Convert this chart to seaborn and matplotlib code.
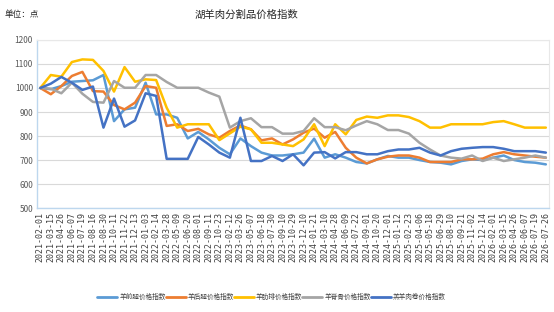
import numpy as np
import pandas as pd
import matplotlib
matplotlib.use("Agg")
import matplotlib.pyplot as plt
import seaborn as sns

dates = ["2021-02-01", "2021-03-15", "2021-04-26", "2021-06-07", "2021-07-19", "2021-08-16",
         "2021-08-30", "2021-10-11", "2021-11-22", "2021-12-13", "2022-01-03", "2022-02-14",
         "2022-03-28", "2022-05-09", "2022-06-20", "2022-08-01", "2022-09-11", "2022-10-23",
         "2023-02-12", "2023-03-26", "2023-05-07", "2023-06-18", "2023-07-30", "2023-09-10",
         "2023-10-29", "2023-12-10", "2024-01-21", "2024-03-10", "2024-04-28", "2024-06-09",
         "2024-07-22", "2024-09-01", "2024-10-20", "2024-12-01", "2025-01-12", "2025-02-23",
         "2025-04-06", "2025-05-18", "2025-06-29", "2025-08-10", "2025-09-21", "2025-11-02",
         "2025-12-14", "2026-02-01", "2026-03-15", "2026-04-26", "2026-06-07", "2026-07-19",
         "2026-07-26"]

front_leg = [1000, 995, 1008, 1026, 1029, 1032, 1054, 862, 911, 918, 1022, 890, 890, 876, 790,
             817, 786, 751, 724, 790, 758, 731, 719, 719, 724, 731, 789, 710, 724, 710, 692,
             686, 703, 717, 710, 710, 700, 692, 689, 682, 696, 703, 700, 710, 719, 700, 692,
             689, 682]
hind_leg = [1000, 974, 1008, 1050, 1067, 987, 985, 929, 911, 939, 1008, 1001, 842, 849, 821,
            830, 807, 793, 821, 844, 828, 782, 790, 765, 786, 814, 831, 793, 817, 751, 710,
            686, 703, 714, 719, 719, 710, 692, 692, 692, 703, 703, 706, 724, 733, 724, 719,
            714, 710]
ribs = [1000, 1054, 1047, 1108, 1119, 1117, 1071, 985, 1087, 1026, 1036, 1033, 918, 835, 849,
        849, 849, 783, 811, 839, 828, 772, 772, 765, 758, 786, 849, 758, 849, 807, 867, 881,
        876, 886, 886, 879, 862, 835, 835, 849, 849, 849, 849, 858, 862, 849, 835, 835, 835]
spine = [1000, 997, 978, 1022, 976, 942, 939, 1029, 1001, 1001, 1054, 1054, 1025, 1001, 1001,
         1001, 981, 964, 835, 862, 874, 837, 837, 810, 810, 821, 874, 837, 837, 824, 844, 862,
         849, 825, 825, 810, 772, 744, 719, 710, 706, 719, 696, 710, 696, 703, 710, 719, 710]
roll = [1000, 1018, 1046, 1022, 992, 1006, 835, 956, 839, 865, 978, 967, 705, 705, 705, 796,
        765, 731, 710, 876, 696, 696, 717, 696, 724, 678, 731, 733, 707, 733, 733, 724, 724,
        737, 744, 744, 751, 731, 719, 737, 747, 751, 754, 754, 747, 737, 737, 737, 731]

series_names = ["羊前腿价格指数", "羊后腿价格指数", "羊肋排价格指数", "羊脊骨价格指数", "羔羊肉卷价格指数"]
series_values = [front_leg, hind_leg, ribs, spine, roll]
colors = ["#5B9BD5", "#ED7D31", "#FFC000", "#A5A5A5", "#4472C4"]

rows = []
for name, vals in zip(series_names, series_values):
    for i, v in enumerate(vals):
        rows.append({"idx": i, "value": v, "series": name})
df = pd.DataFrame(rows)

sns.set_theme(style="white")
plt.rcParams["font.family"] = ["Noto Sans CJK SC", "DejaVu Sans"]

fig = plt.figure(figsize=(5.54, 3.12), dpi=100)
ax = fig.add_axes([0.067, 0.333, 0.924, 0.539])

sns.lineplot(data=df, x="idx", y="value", hue="series", hue_order=series_names,
             palette=colors, linewidth=1.8, ax=ax, legend=True)

ax.set_xlim(-0.3, len(dates) - 1 + 0.3)
ax.set_ylim(500, 1200)
ax.set_yticks(range(500, 1201, 100))
ax.yaxis.grid(True, color="#D9D9D9", linewidth=0.8)
ax.xaxis.grid(False)
ax.set_xticks(range(len(dates)))
ax.set_xticklabels(dates, rotation=90, fontsize=6, color="#404040",
                   family=["DejaVu Sans Mono", "DejaVu Sans"])
ax.tick_params(axis="y", labelsize=6, colors="#595959", length=0, pad=3)
ax.tick_params(axis="x", length=0, pad=3)
ax.set_xlabel("")
ax.set_ylabel("")
for s in ["top", "right"]:
    ax.spines[s].set_color("#E8E8E8")
    ax.spines[s].set_linewidth(0.8)
for s in ["left", "bottom"]:
    ax.spines[s].set_color("#BDD7EE")
    ax.spines[s].set_linewidth(1.0)

handles, labels = ax.get_legend_handles_labels()
for h in handles:
    h.set_linewidth(2.0)
ax.legend_.remove()
fig.legend(handles, labels, loc="center", bbox_to_anchor=(0.49, 0.048), ncol=5,
           frameon=False, fontsize=4.8, handlelength=3.0, handletextpad=0.3,
           columnspacing=0.0, labelcolor="#404040")

fig.text(0.444, 0.952, "湖羊肉分割品价格指数", ha="center", va="center", fontsize=7.5,
         color="#262626")
fig.text(0.008, 0.952, "单位：点", ha="left", va="center", fontsize=6.2, color="#262626")

fig.savefig("out.png", dpi=100)
